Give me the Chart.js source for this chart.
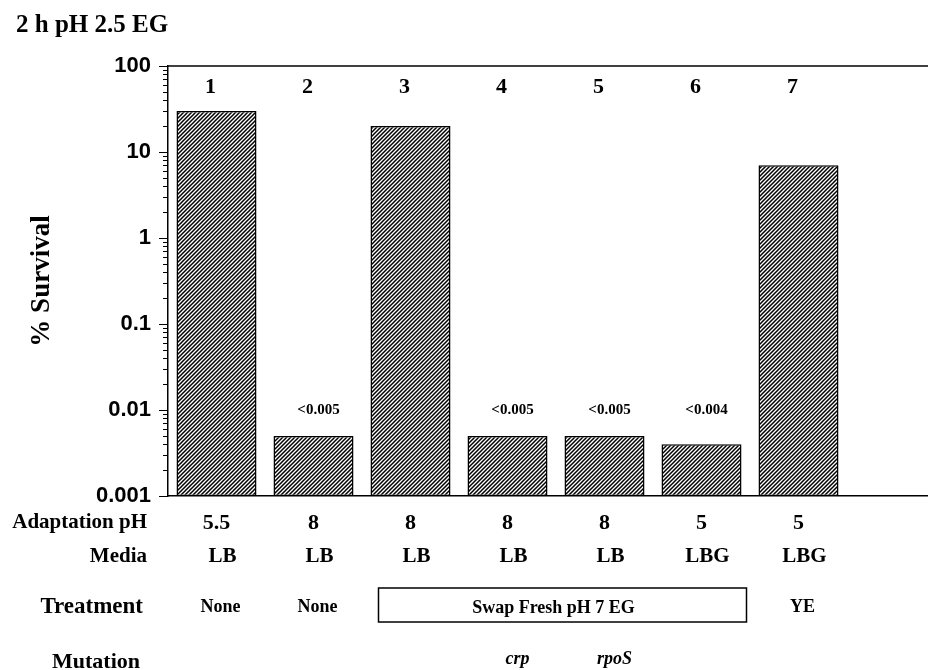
<!DOCTYPE html>
<html><head><meta charset="utf-8">
<script src="https://cdn.jsdelivr.net/npm/chart.js@4.4.0/dist/chart.umd.min.js"></script>
<style>html,body{margin:0;padding:0;background:#fff}#wrap{width:928px;height:670px}</style>
</head><body><div id="wrap"><canvas id="c" width="928" height="670"></canvas></div>
<script>
// ---- data ----
const chartTitle = '2 h pH 2.5 EG';
const laneNumbers = ['1','2','3','4','5','6','7'];
const survival = [30, 0.005, 20, 0.005, 0.005, 0.004, 7];
const valueNotes = ['', '<0.005', '', '<0.005', '<0.005', '<0.004', ''];
const yTickLabels = ['0.001','0.01','0.1','1','10','100'];
const yTitle = '% Survival';
const rowLabels = ['Adaptation pH','Media','Treatment','Mutation'];
const adaptationPH = ['5.5','8','8','8','8','5','5'];
const media = ['LB','LB','LB','LB','LB','LBG','LBG'];
const treatment = ['None','None','','','','','YE'];
const groupedTreatment = 'Swap Fresh pH 7 EG';
const groupedLanes = [3, 6];
const mutation = ['','','','crp','rpoS','',''];

const SERIF = '"Liberation Serif", "Times New Roman", serif';
const SANS = '"Liberation Sans", Arial, sans-serif';

const canvas = document.getElementById('c');
const ctx0 = canvas.getContext('2d');
function hatch(){
  const c = document.createElement('canvas'); c.width = 4; c.height = 4;
  const g = c.getContext('2d');
  g.fillStyle = '#fff'; g.fillRect(0,0,4,4);
  g.strokeStyle = '#000'; g.lineWidth = 1.5;
  g.beginPath();
  g.moveTo(-1,5); g.lineTo(5,-1);
  g.moveTo(-1,1); g.lineTo(1,-1);
  g.moveTo(3,5); g.lineTo(5,3);
  g.stroke();
  return ctx0.createPattern(c,'repeat');
}
const isPow10 = v => Math.abs(Math.log10(v) - Math.round(Math.log10(v))) < 1e-9;

const decorPlugin = {
  id: 'decor',
  afterDraw(chart){
    const {ctx, chartArea: a, scales: {x, y}} = chart;
    ctx.save();
    ctx.fillStyle = '#000'; ctx.strokeStyle = '#000';
    // title
    ctx.font = 'bold 25px ' + SERIF;
    ctx.textAlign = 'left'; ctx.textBaseline = 'alphabetic';
    ctx.fillText(chartTitle, 16, 32);
    // top frame line
    ctx.lineWidth = 1.5;
    ctx.beginPath(); ctx.moveTo(a.left, a.top); ctx.lineTo(a.right, a.top); ctx.stroke();
    // minor ticks
    ctx.lineWidth = 1;
    const lo = Math.round(Math.log10(y.min)), hi = Math.round(Math.log10(y.max));
    for (let e = lo; e < hi; e++) {
      for (let m = 2; m <= 9; m++) {
        const py = Math.round(y.getPixelForValue(m * Math.pow(10, e))) + 0.5;
        ctx.beginPath(); ctx.moveTo(a.left - 5, py); ctx.lineTo(a.left, py); ctx.stroke();
      }
    }
    // lane numbers
    ctx.textAlign = 'center'; ctx.textBaseline = 'middle';
    ctx.font = 'bold 22px ' + SERIF;
    laneNumbers.forEach((t,i) => ctx.fillText(t, x.getPixelForValue(i+1) - 6, a.top + 21));
    // value notes
    ctx.font = 'bold 15px ' + SERIF;
    valueNotes.forEach((t,i) => { if (t) ctx.fillText(t, x.getPixelForValue(i+1) + 5, y.getPixelForValue(0.01)); });
    // row labels
    const rowY = [a.bottom + 27, a.bottom + 61, a.bottom + 111, a.bottom + 166];
    const rowFont = [21, 21, 23, 22];
    const rowRight = [147, 147, 143, 140];
    ctx.textAlign = 'right';
    rowLabels.forEach((t,i) => { ctx.font = 'bold ' + rowFont[i] + 'px ' + SERIF; ctx.fillText(t, rowRight[i], rowY[i]); });
    ctx.textAlign = 'center';
    ctx.font = 'bold 22px ' + SERIF;
    adaptationPH.forEach((t,i) => ctx.fillText(t, x.getPixelForValue(i+1), rowY[0]));
    ctx.font = 'bold 21px ' + SERIF;
    media.forEach((t,i) => ctx.fillText(t, x.getPixelForValue(i+1) + 6, rowY[1]));
    ctx.font = 'bold 18px ' + SERIF;
    treatment.forEach((t,i) => { if (t) ctx.fillText(t, x.getPixelForValue(i+1) + 4, rowY[2]); });
    // grouped treatment box
    const bl = x.getPixelForValue(groupedLanes[0]) - 32, br = x.getPixelForValue(groupedLanes[1]) + 45;
    ctx.lineWidth = 1.5;
    ctx.strokeRect(bl, rowY[2] - 19, br - bl, 34);
    ctx.font = 'bold 18px ' + SERIF;
    ctx.fillText(groupedTreatment, (bl + br) / 2 - 9, rowY[2] + 1);
    ctx.font = 'italic bold 18px ' + SERIF;
    mutation.forEach((t,i) => { if (t) ctx.fillText(t, x.getPixelForValue(i+1) + 10, rowY[3] - 3); });
    ctx.restore();
  }
};

new Chart(canvas, {
  type: 'bar',
  data: {
    datasets: [{
      data: survival.map((v,i) => ({x: i+1, y: v})),
      backgroundColor: hatch(),
      borderColor: '#000',
      borderWidth: 1.5,
      borderSkipped: false,
      barPercentage: 0.825,
      categoryPercentage: 1
    }]
  },
  options: {
    responsive: false,
    animation: false,
    devicePixelRatio: 1,
    layout: {padding: {top: 66, left: 0, right: 0, bottom: 174}},
    plugins: {legend: {display: false}, tooltip: {enabled: false}, title: {display: false}},
    scales: {
      x: {
        type: 'linear', min: 0.5, max: 8.335, offset: false,
        border: {display: true, color: '#000', width: 1.5},
        grid: {display: false, drawTicks: false, offset: false},
        afterBuildTicks: s => { s.ticks = s.ticks.filter(t => Number.isInteger(t.value)); },
        ticks: {display: false, stepSize: 1}
      },
      y: {
        type: 'logarithmic', min: 0.001, max: 100,
        border: {display: true, color: '#000', width: 1.5},
        grid: {display: true, drawOnChartArea: false, drawTicks: true, tickLength: 9, tickWidth: 1, tickColor: '#000'},
        afterBuildTicks: s => { s.ticks = s.ticks.filter(t => isPow10(t.value)); },
        ticks: {
          autoSkip: false, padding: 8, color: '#000',
          font: {family: SANS, weight: 'bold', size: 22},
          callback: v => yTickLabels[Math.round(Math.log10(v)) + 3]
        },
        title: {display: true, text: yTitle, color: '#000', padding: {top: 26, bottom: 0},
          font: {family: SERIF, weight: 'bold', size: 27}},
        afterFit: s => { s.width = 168; s.paddingTop = 0; s.paddingBottom = 0; }
      }
    }
  },
  plugins: [decorPlugin]
});
</script>
</body></html>
